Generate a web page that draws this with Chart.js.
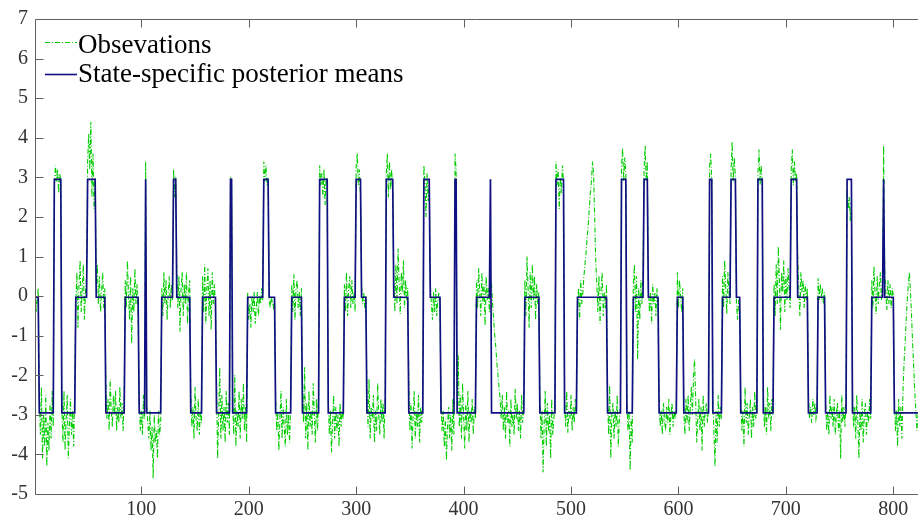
<!DOCTYPE html>
<html>
<head>
<meta charset="utf-8">
<script src="https://cdn.jsdelivr.net/npm/chart.js@4.4.0/dist/chart.umd.min.js"></script>
<style>
html, body { margin: 0; padding: 0; background: #fff; }
#wrap { width: 918px; height: 523px; overflow: hidden; }
</style>
</head>
<body>
<div id="wrap"><canvas id="chart_states" width="918" height="523"></canvas></div>
<script>
// posterior mean of each hidden state: low / middle / high
var stateMeans = [-2.95, -0.03, 2.95];

// hidden state path: [state index, run length]
var stateRuns = [
    [1,4],[0,14],[2,7],[0,13],[1,11],[2,8],[1,9],[0,18],[1,13],[0,6],
    [2,1],[0,14],[1,11],[2,3],[1,13],[0,11],[1,13],[0,13],[2,2],[0,14],
    [1,15],[2,5],[1,6],[0,15],[1,10],[0,16],[2,8],[0,15],[1,11],[2,5],
    [1,5],[0,18],[2,7],[1,14],[0,14],[2,6],[1,10],[0,13],[2,2],[0,18],
    [1,13],[2,1],[0,31],[1,14],[0,15],[2,8],[0,12],[1,28],[0,13],[2,5],
    [0,6],[1,10],[2,4],[1,10],[0,17],[1,6],[0,24],[2,3],[0,9],[1,8],
    [2,5],[1,4],[0,16],[2,5],[0,10],[1,16],[2,6],[1,10],[0,9],[1,7],
    [0,20],[2,5],[0,18],[1,11],[2,1],[1,9],[0,23]
];

var xTicks = [100, 200, 300, 400, 500, 600, 700, 800];
var yTicks = [-5, -4, -3, -2, -1, 0, 1, 2, 3, 4, 5, 6, 7];

// observed series, one value per time step (t = 1 .. 823)
var observations = [
    0.4,-0.4,-0.1,0.2,
    -2.6,-3.5,-2.3,-4.1,-3.0,-3.8,-2.5,-4.3,-3.2,-3.9,-2.7,-3.6,-2.4,-3.3,
    2.7,3.3,2.9,3.2,2.6,3.1,2.9,
    -2.8,-3.7,-2.4,-3.9,-3.1,-2.5,-4.1,-3.3,-2.6,-3.5,-2.9,-3.8,-2.3,
    -0.2,0.6,-0.8,0.3,0.9,-0.4,0.2,0.8,-0.6,0.1,0.5,
    3.4,4.1,3.2,4.4,2.5,3.6,2.2,3.0,
    0.3,0.8,-0.2,0.5,-0.4,0.1,0.6,-0.3,0.2,
    -2.2,-3.1,-2.6,-3.4,-2.1,-2.9,-3.3,-2.5,-3.0,-2.4,-3.4,-2.8,-3.2,-2.3,-3.1,-2.7,-3.4,-2.6,
    0.4,-0.3,0.9,0.1,-0.6,0.5,-1.2,0.2,-0.4,0.7,-0.2,0.3,-0.5,
    -2.6,-3.4,-2.9,-3.5,-2.5,-3.1,
    3.4,
    -2.8,-3.2,-3.6,-2.9,-3.9,-3.3,-4.6,-3.0,-3.7,-3.4,-4.1,-2.9,-3.5,-3.2,
    0.2,-0.5,0.6,-0.2,0.4,-0.6,0.1,0.5,-0.3,0.3,-0.1,
    3.2,2.5,3.0,
    0.7,-0.3,0.5,-0.9,0.2,0.6,-0.5,0.3,-0.2,0.6,-0.7,0.1,0.4,
    -2.4,-3.3,-2.8,-3.6,-2.3,-3.1,-3.4,-2.6,-3.5,-2.9,-3.2,
    0.5,-0.4,0.8,-0.7,0.2,0.7,-0.5,0.4,-0.85,0.6,-0.2,0.3,-0.3,
    -2.2,-4.1,-3.0,-1.8,-3.6,-2.5,-3.4,-2.8,-3.7,-2.4,-3.2,-2.7,-3.5,
    3.0,2.8,
    -2.7,-3.5,-2.0,-3.8,-2.9,-3.3,-2.4,-3.6,-2.6,-3.1,-2.2,-3.4,-2.8,-3.7,
    0.1,-0.6,-0.2,-0.8,0.0,-0.4,0.1,-0.7,-0.3,0.1,-0.5,0.0,-0.2,0.2,-0.1,
    3.4,2.9,3.3,2.8,3.0,
    -0.1,-0.3,0.0,-0.2,-0.3,-0.1,
    -2.5,-3.4,-2.9,-3.9,-3.1,-2.4,-3.6,-2.8,-3.3,-3.8,-2.6,-3.5,-3.0,-3.7,-2.7,
    0.3,-0.4,0.55,-0.6,0.2,0.4,-0.3,0.1,-0.5,0.2,
    -2.3,-3.2,-1.8,-3.6,-2.7,-3.9,-2.4,-3.3,-2.9,-3.5,-2.2,-3.0,-3.7,-2.6,-3.4,-2.5,
    3.3,2.8,3.1,2.5,3.2,2.3,3.0,2.7,
    -2.6,-3.5,-2.9,-3.95,-3.2,-2.5,-3.6,-2.8,-3.4,-3.0,-3.8,-2.7,-3.3,-2.9,-3.1,
    0.3,-0.4,0.6,-0.5,0.2,0.5,-0.3,0.4,-0.2,0.1,-0.4,
    3.3,3.6,2.8,3.2,2.5,
    0.3,-0.2,0.1,-0.3,0.0,
    -2.4,-3.3,-2.1,-3.6,-2.8,-3.1,-2.5,-3.7,-2.9,-3.4,-2.2,-3.0,-3.5,-2.6,-3.2,-2.7,-3.6,-2.5,
    3.1,3.6,2.5,3.4,2.7,3.2,2.6,
    0.5,-0.4,0.8,-0.2,1.2,0.3,-0.45,0.6,0.1,0.9,-0.3,0.4,-0.1,0.2,
    -2.2,-3.4,-2.7,-3.85,-3.0,-2.4,-3.6,-2.9,-3.3,-2.5,-3.7,-2.8,-3.2,-2.6,
    3.3,2.9,2.0,3.1,2.4,2.8,
    0.3,-0.2,-0.6,0.1,-0.4,0.2,-0.5,-0.1,0.1,-0.3,
    -2.7,-3.4,-2.9,-3.8,-3.1,-4.15,-3.3,-2.8,-3.6,-3.0,-3.9,-2.6,-3.5,
    3.6,3.2,
    -2.9,-1.5,-3.3,-2.5,-3.6,-2.2,-3.0,-3.85,-2.7,-3.4,-2.4,-3.7,-2.9,-3.2,-2.6,-3.5,-2.8,-3.1,
    0.4,-0.3,0.7,0.1,-0.5,0.6,-0.2,0.3,-0.75,0.5,-0.1,0.2,-0.4,
    0.5,
    0.3,-0.2,-0.6,-1.0,-1.3,-1.7,-2.0,-2.3,-2.6,-3.1,-2.5,-3.4,-2.8,-3.6,-2.4,-3.2,
    -2.9,-3.8,-2.6,-3.3,-3.0,-3.5,-2.35,-3.1,-2.7,-3.4,-2.9,-3.6,-2.5,-3.2,-2.8,
    0.4,-0.5,1.0,0.2,-0.8,0.6,-0.3,0.8,-0.1,0.5,-0.6,0.3,-0.2,0.1,
    -2.5,-3.6,-2.9,-4.45,-3.2,-2.4,-3.8,-2.7,-3.4,-3.0,-4.1,-2.6,-3.5,-3.1,-2.8,
    3.4,2.8,3.2,2.2,3.0,2.6,3.3,2.9,
    -2.7,-3.3,-2.4,-3.45,-2.9,-3.1,-2.5,-3.4,-2.8,-3.2,-2.6,-3.0,
    -0.3,0.2,-0.6,0.4,-0.2,0.1,0.5,0.8,1.1,1.5,1.8,2.2,2.6,2.9,
    3.4,3.1,2.0,0.9,0.3,-0.4,0.5,-0.7,0.2,0.6,-0.5,0.1,-0.3,0.3,
    -2.6,-3.5,-2.25,-4.1,-3.0,-2.7,-3.6,-2.9,-3.3,-2.5,-3.8,-3.1,-2.8,
    3.3,3.75,2.9,3.5,3.1,
    -2.6,-3.4,-2.9,-4.4,-3.1,-3.7,
    0.3,0.8,-0.4,0.5,-1.6,0.2,-0.6,0.4,-0.2,0.6,
    3.2,3.8,2.9,3.4,
    0.2,-0.4,0.1,-0.7,0.3,-0.2,0.1,-0.5,0.2,-0.3,
    -2.6,-3.3,-2.9,-3.5,-2.7,-3.1,-3.4,-2.8,-3.2,-2.6,-3.5,-3.0,-2.7,-3.3,-2.9,-3.1,-2.8,
    0.6,-0.3,0.4,0.0,-0.4,0.2,
    -2.9,-3.5,-2.6,-3.2,-2.5,-3.4,-2.8,-2.3,-3.0,-2.0,-1.6,-2.6,
    -3.7,-3.1,-2.6,-3.4,-2.8,-3.9,-2.5,-3.3,-2.9,-2.7,-3.2,-2.8,
    3.3,3.6,2.9,
    -2.6,-3.4,-4.3,-2.9,-3.7,-2.5,-3.3,-2.8,-3.1,
    0.5,-0.3,0.9,0.2,-0.45,0.6,0.1,-0.2,
    3.2,3.9,2.9,3.5,3.0,
    -0.2,-0.6,-0.1,-0.4,
    -2.5,-3.4,-2.9,-3.8,-2.3,-3.2,-2.7,-3.5,-3.0,-2.6,-3.6,-2.8,-3.3,-2.4,-3.1,-2.9,
    3.1,3.7,2.8,3.3,2.9,
    -2.4,-3.3,-2.8,-3.5,-2.3,-3.1,-2.7,-3.4,-2.6,-3.0,
    0.3,-0.5,0.8,-0.2,1.25,0.4,-0.85,0.6,0.1,0.9,-0.4,0.5,-0.1,0.7,0.2,-0.3,
    3.2,3.7,2.8,3.4,2.9,3.1,
    1.05,0.2,-0.5,0.6,0.1,0.4,-0.3,0.3,-0.1,0.2,
    -2.5,-3.1,-2.8,-3.2,-2.6,-3.0,-2.7,-3.1,-2.9,
    0.45,-0.1,0.3,0.0,0.2,-0.2,0.1,
    -2.6,-3.4,-2.9,-3.5,-2.5,-3.1,-2.8,-3.3,-2.6,-3.5,-3.0,-2.7,-3.4,-2.9,-4.1,-2.5,-3.2,-2.8,-3.3,-2.6,
    2.7,2.2,2.5,1.9,2.4,
    -2.4,-3.3,-2.8,-3.6,-2.5,-3.2,-4.1,-2.9,-3.4,-2.6,-3.7,-3.0,-2.7,-3.5,-2.9,-3.2,-2.6,-3.1,
    0.4,-0.3,0.75,0.1,-0.45,0.5,-0.2,0.3,0.6,-0.1,0.2,
    3.8,
    0.7,0.1,-0.35,0.4,-0.2,0.3,-0.3,0.2,0.0,
    -2.5,-3.4,-2.9,-3.8,-2.6,-3.3,-2.8,-3.6,-2.4,-1.7,-1.2,-0.6,
    -0.1,0.3,0.6,0.1,-0.5,-1.2,-1.8,-2.4,-2.9,-3.4,-3.0
];

var seriesNames = ['Obsevations', 'State-specific posterior means'];

var obsPoints = observations.map(function (v, i) { return { x: i + 1, y: v }; });

var meanPoints = [];
var t = 1;
stateRuns.forEach(function (run) {
    for (var k = 0; k < run[1]; k++) {
        meanPoints.push({ x: t, y: stateMeans[run[0]] });
        t++;
    }
});
var lastT = Math.max(obsPoints.length, meanPoints.length);

var GREEN = 'rgb(0,204,0)';
var NAVY = 'rgb(16,16,130)';
var AXIS = '#606060';
var TEXT = '#333333';
var SERIF = "'Liberation Serif', 'Times New Roman', serif";

// MATLAB-like box: left / bottom / top lines with inward ticks
var axisFrame = {
    id: 'axisFrame',
    afterDatasetsDraw: function (chart) {
        var ctx = chart.ctx, a = chart.chartArea;
        var xs = chart.scales.x, ys = chart.scales.y;
        var L = a.left + 0.5, T = a.top + 0.5, B = a.bottom + 0.5, R = chart.width;
        ctx.save();
        ctx.strokeStyle = AXIS;
        ctx.lineWidth = 1;
        ctx.beginPath();
        ctx.moveTo(R, T); ctx.lineTo(L, T); ctx.lineTo(L, B); ctx.lineTo(R, B);
        xTicks.forEach(function (v) {
            var px = Math.round(xs.getPixelForValue(v)) + 0.5;
            ctx.moveTo(px, B); ctx.lineTo(px, B - 8);
            ctx.moveTo(px, T); ctx.lineTo(px, T + 8);
        });
        yTicks.forEach(function (v) {
            var py = Math.round(ys.getPixelForValue(v)) + 0.5;
            ctx.moveTo(L, py); ctx.lineTo(L + 8, py);
        });
        ctx.stroke();
        ctx.restore();
    }
};

// legend without box, top left inside the axes
var cornerLegend = {
    id: 'cornerLegend',
    afterDraw: function (chart) {
        var ctx = chart.ctx;
        var rows = [
            { name: seriesNames[0], color: GREEN, dash: [5, 2, 1, 2], width: 1, lineY: 42.5, base: 53 },
            { name: seriesNames[1], color: NAVY, dash: [], width: 1.6, lineY: 74.5, base: 82 }
        ];
        ctx.save();
        rows.forEach(function (r) {
            ctx.strokeStyle = r.color;
            ctx.lineWidth = r.width;
            ctx.setLineDash(r.dash);
            ctx.beginPath();
            ctx.moveTo(45, r.lineY);
            ctx.lineTo(77, r.lineY);
            ctx.stroke();
            ctx.setLineDash([]);
            ctx.fillStyle = '#000';
            ctx.font = '27px ' + SERIF;
            ctx.textBaseline = 'alphabetic';
            ctx.textAlign = 'left';
            ctx.fillText(r.name, 78, r.base);
        });
        ctx.restore();
    }
};

new Chart(document.getElementById('chart_states'), {
    type: 'line',
    data: {
        datasets: [{
            label: seriesNames[1],
            data: meanPoints,
            borderColor: NAVY,
            borderWidth: 1.7,
            pointRadius: 0,
            tension: 0,
            order: 1
        }, {
            label: seriesNames[0],
            data: obsPoints,
            borderColor: GREEN,
            borderWidth: 1.1,
            borderDash: [5, 2, 1, 2],
            pointRadius: 0,
            tension: 0,
            order: 2
        }]
    },
    options: {
        responsive: false,
        animation: false,
        layout: { padding: { top: 16, right: 0, left: 0, bottom: 0 } },
        plugins: {
            legend: { display: false },
            tooltip: { enabled: false }
        },
        scales: {
            x: {
                type: 'linear',
                min: 1,
                max: lastT,
                grid: { display: false, drawTicks: false },
                border: { display: false },
                afterBuildTicks: function (s) { s.ticks = xTicks.map(function (v) { return { value: v }; }); },
                afterFit: function (s) { s.height = 29; },
                ticks: {
                    font: { family: SERIF, size: 20 },
                    color: TEXT,
                    padding: 4,
                    maxRotation: 0,
                    autoSkip: false
                }
            },
            y: {
                min: -5,
                max: 7,
                grid: { display: false, drawTicks: false },
                border: { display: false },
                afterBuildTicks: function (s) { s.ticks = yTicks.map(function (v) { return { value: v }; }); },
                afterFit: function (s) { s.width = 35; },
                ticks: {
                    font: { family: SERIF, size: 20 },
                    color: TEXT,
                    padding: 7
                }
            }
        }
    },
    plugins: [axisFrame, cornerLegend]
});
</script>
</body>
</html>
